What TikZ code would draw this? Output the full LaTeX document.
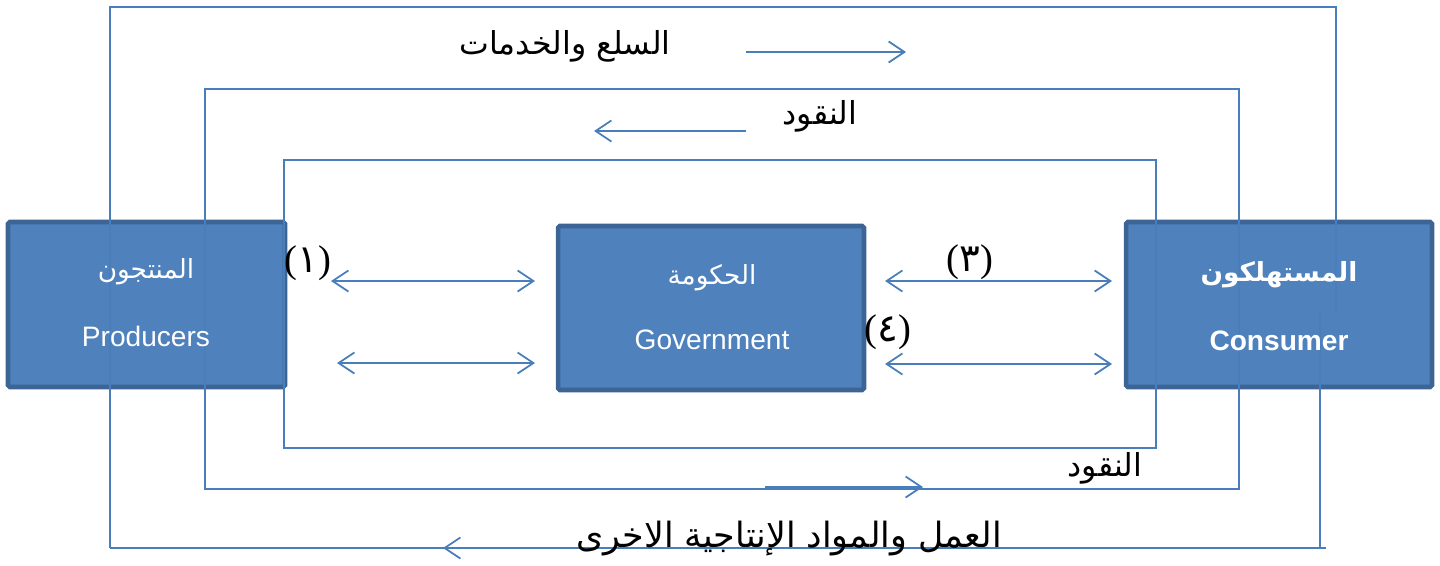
\documentclass[tikz,border=0pt]{standalone}
\usepackage{fontspec}
\setmainfont{Liberation Serif}
\newfontfamily\arabicfont[Script=Arabic]{DejaVu Sans}
\newfontfamily\digitfont{DejaVu Sans}
\newfontfamily\boxfont{Liberation Sans}
\TeXXeTstate=1
\usetikzlibrary{arrows.meta}
\definecolor{flow}{HTML}{4A7EBB}
\definecolor{boxfill}{HTML}{4F81BD}
\definecolor{boxline}{HTML}{3C6494}
\pgfdeclarelayer{bg}\pgfdeclarelayer{fg}\pgfsetlayers{bg,main,fg}
\begin{document}
\begin{tikzpicture}[x=0.02cm,y=-0.02cm,
  flowline/.style={draw=flow,line width=0.8pt},
  flowarrow/.style={draw=flow,line width=1pt,-{Straight Barb[length=9pt,width=12pt]}},
  twoway/.style={draw=flow,line width=1pt,{Straight Barb[length=9pt,width=12pt]}-{Straight Barb[length=9pt,width=12pt]}},
  agent/.style={draw=boxline,fill=boxfill,line width=2.6pt,rounded corners=1pt,inner sep=0pt,minimum height=3.3cm},
  agentar/.style={text=white,font=\arabicfont\fontsize{15}{18}\selectfont,inner sep=0pt},
  agenten/.style={text=white,font=\boxfont\fontsize{16}{19}\selectfont,inner sep=0pt},
  flowlabel/.style={font=\arabicfont\fontsize{18}{21}\selectfont,inner sep=0pt},
  numlabel/.style={font=\fontsize{22}{26}\selectfont,inner sep=0pt}]
\useasboundingbox (0,0) rectangle (1440,565);

% boxes on background layer
\begin{pgfonlayer}{bg}
\node[agent,minimum width=5.54cm] (prod) at (146.5,304.5) {};
\node[agent,minimum width=6.12cm,minimum height=3.28cm] (gov) at (711,308) {};
\node[agent,minimum width=6.12cm] (cons) at (1279,304.5) {};
\end{pgfonlayer}

% circular flow loops
\coordinate (o1) at (110,548); \coordinate (o2) at (110,7);
\coordinate (o3) at (1336,7);  \coordinate (o4) at (1336,310);
\coordinate (o5) at (1320,310); \coordinate (o6) at (1320,548);
\coordinate (o7) at (1326,548);
\draw[flowline] (o1) -- (o2) -- (o3) -- (o4);
\draw[flowline] (o5) -- (o6);
\draw[flowline] (o7) -- (o1);

\coordinate (m1) at (205,489); \coordinate (m2) at (205,89);
\coordinate (m3) at (1239,89); \coordinate (m4) at (1239,489);
\draw[flowline] (m1) -- (m2) -- (m3) -- (m4) -- cycle;

\coordinate (i1) at (284,448); \coordinate (i2) at (284,160);
\coordinate (i3) at (1156,160); \coordinate (i4) at (1156,448);
\draw[flowline] (i1) -- (i2) -- (i3) -- (i4) -- cycle;

% flow arrows
\coordinate (a1s) at (746,52);  \coordinate (a1e) at (906,52);
\coordinate (a2s) at (746,131); \coordinate (a2e) at (594,131);
\coordinate (a3s) at (765,487); \coordinate (a3e) at (923,487);
\coordinate (a4s) at (590,548); \coordinate (a4e) at (443,548);
\draw[flowarrow] (a1s) -- (a1e);
\draw[flowarrow] (a2s) -- (a2e);
\draw[flowarrow] (a3s) -- (a3e);
\draw[flowarrow] (a4s) -- (a4e);

% two-way arrows
\coordinate (l1a) at (331,281); \coordinate (l1b) at (535,281);
\coordinate (l2a) at (337,363); \coordinate (l2b) at (535,363);
\coordinate (r1a) at (885,281); \coordinate (r1b) at (1112,281);
\coordinate (r2a) at (885,364); \coordinate (r2b) at (1112,364);
\draw[twoway] (l1a) -- (l1b);
\draw[twoway] (l2a) -- (l2b);
\draw[twoway] (r1a) -- (r1b);
\draw[twoway] (r2a) -- (r2b);

% flow labels
\node[flowlabel] (goods) at (565,46) {\beginR السلع والخدمات\endR};
\node[flowlabel] (money1) at (820,116) {\beginR النقود\endR};
\node[flowlabel] (money2) at (1105,468) {\beginR النقود\endR};
\node[flowlabel,font=\arabicfont\fontsize{19.8}{24}\selectfont] (labour) at (789,539) {\beginR العمل والمواد الإنتاجية الاخرى\endR};

\node[numlabel] (n1) at (308,263) {({\digitfont ١})};
\node[numlabel] (n3) at (970,262) {({\digitfont ٣})};
\node[numlabel] (n4) at (888,332) {({\digitfont ٤})};

% box texts on top
\begin{pgfonlayer}{fg}
\node[agentar] (prodar) at (146,272) {\beginR المنتجون\endR};
\node[agenten] (proden) at (146,336) {Producers};
\node[agentar] (govar) at (712,278) {\beginR الحكومة\endR};
\node[agenten] (goven) at (712,340) {Government};
\node[agentar,font=\arabicfont\bfseries\fontsize{15}{18}\selectfont] (consar) at (1279,275) {\beginR المستهلكون\endR};
\node[agenten,font=\boxfont\bfseries\fontsize{16}{19}\selectfont] (consen) at (1279,341) {Consumer};
\end{pgfonlayer}
\end{tikzpicture}
\end{document}
